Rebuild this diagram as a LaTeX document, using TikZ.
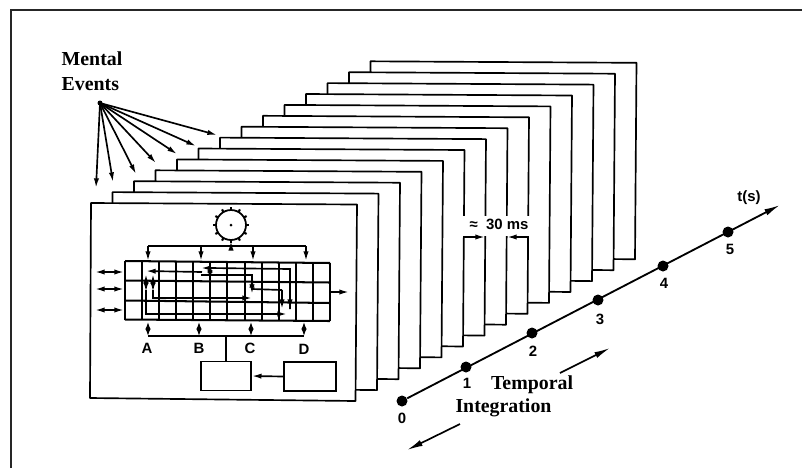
\documentclass[tikz,border=0pt]{standalone}
\usepackage{fontspec}
\setmainfont{Liberation Serif}
\setsansfont{Liberation Sans}
\usepackage{tikz}
\usetikzlibrary{arrows.meta,positioning,calc}

\tikzset{
  frameline/.style={draw=black,fill=white,line width=0.95pt,line join=round},
  wire/.style={line width=0.95pt},
  gridline/.style={line width=1.15pt},
  boxnode/.style={draw=black,line width=0.95pt,minimum height=0.58cm,inner sep=0pt},
  dotnode/.style={circle,fill=black,minimum size=0.22cm,inner sep=0pt},
  tlabel/.style={font=\sffamily\bfseries\fontsize{8.5}{10}\selectfont,inner sep=0pt},
  capt/.style={font=\bfseries\fontsize{11.3}{14.2}\selectfont,inner sep=0pt,align=left},
}

\begin{document}
\begin{tikzpicture}[x=0.02cm,y=-0.02cm,>={Latex[length=5.5pt,width=3pt]}]
  \useasboundingbox (0,0) rectangle (802,468);
  % outer rule
  \draw[line width=1.2pt,draw=black!85] (11,468) -- (11,10) -- (802,10);

  % frames, back to front
  \foreach \i in {13,12,...,0} {
    \pgfmathsetmacro{\fx}{91+21.5*\i}
    \pgfmathsetmacro{\fy}{203-10.9*\i}
    \draw[frameline] (\fx,\fy) -- ({\fx+266},{\fy+1.5}) -- ({\fx+264.5},{\fy+198}) -- ({\fx-1},{\fy+195}) -- cycle;
  }

  % gap for the duration label
  \fill[white] (456,216) rectangle (536,235.5);
  \node[tlabel] (dur) at (499,224) {≈\ \ 30 ms};
  \draw[wire,->] (464,237) -- (485,237);
  \draw[wire,->] (528,237) -- (507,237);

  % grid
  \foreach \i in {0,...,12}
    \draw[gridline] ({125+17.08*\i},{261+\i*0.15}) -- ({125+17.08*\i},{319.5+\i*0.15});
  \draw[gridline] (125,261) -- (330,263);
  \draw[gridline] (125,280.5) -- (330,282.5);
  \draw[gridline] (125,300.5) -- (330,303);
  \draw[gridline] (125,319.5) -- (330,321);

  % clock
  \node[circle,draw=black,line width=1pt,minimum size=0.6cm,inner sep=0pt] (clock) at (231,225) {};
  \fill (clock.center) circle (1.5);
  \foreach \a in {0,30,...,330}
    \draw[line width=1.2pt] ([shift={(\a:15)}]clock.center) -- ([shift={(\a:18)}]clock.center);
  \coordinate (bust) at (231,246);
  \draw[wire,->] (bust) -- (clock.south);
  \draw[wire] (148,246) -- (306,246);
  \foreach \x in {148,201,253,306}
    \draw[wire,->] (\x,246) -- (\x,261);

  % bottom bus
  \coordinate (busb) at (226,336);
  \draw[wire] (148,336) -- (304,336);
  \foreach \x in {148,199,251,304}
    \draw[wire,<->,>={Latex[length=4pt,width=3pt]}] (\x,322) -- (\x,336);
  \node[tlabel] (la) at (147,348) {A};
  \node[tlabel] (lb) at (199,348) {B};
  \node[tlabel] (lc) at (250,348) {C};
  \node[tlabel] (ld) at (304,349) {D};

  % boxes
  \node[boxnode,minimum width=1.0cm] (boxa) at (226,376) {};
  \node[boxnode,minimum width=1.04cm] (boxb) at (310,376.5) {};
  \draw[wire] (busb) -- (boxa);
  \draw[wire,->] (boxb.west) -- (boxa.east);

  % side arrows
  \foreach \y in {272,289,310}
    \draw[wire,<->] (95,\y) -- (124,\y);
  \draw[wire,->] (330,292) -- (349,292);

  % wiring inside the grid
  \draw[wire,->] (202,272) -- (146,271);
  \draw[wire,<->] (210,263) -- (210,280);
  \draw[wire,<-] (201,268) -- (210,268) -- (290,269) -- (290,309);
  \draw[wire,->] (290,295) -- (290,309);
  \draw[wire] (201,275) -- (252,275) -- (252,289) -- (282,290);
  \draw[wire,<->] (252,278) -- (252,294);
  \draw[wire,->] (282,290) -- (282,309);
  \draw[wire,<->] (153,274) -- (153,292);
  \draw[wire,<->] (146,274) -- (146,292);
  \draw[wire,->] (153,290) -- (153,298) -- (252,298);
  \draw[wire,->] (146,290) -- (146,314) -- (287,314);

  % mental events
  \node[capt] (events) at (92,71) {Mental\\Events};
  \node[circle,fill=black,minimum size=0.1cm,inner sep=0pt] (src) at (100,103) {};
  \foreach \tx/\ty in {96/188,113/182,136/174,156/163,177/154,196/146,217/135}
    \draw[wire,->] (src.center) -- (\tx,\ty);

  % time axis
  \node[dotnode] (t0) at (402,401) {};
  \node[dotnode] (t1) at (466,367) {};
  \node[dotnode] (t2) at (532,333) {};
  \node[dotnode] (t3) at (598,300) {};
  \node[dotnode] (t4) at (663,266) {};
  \node[dotnode] (t5) at (728,232) {};
  \coordinate (tend) at (780,205);
  \draw[line width=1.05pt,->,>={Latex[length=9pt,width=3.8pt]}] (t0) -- (tend);
  \foreach \n/\lx/\ly in {0/402/418,1/467/383,2/533/351,3/600/319,4/664/283,5/730/249}
    \node[tlabel] (l\n) at (\lx,\ly) {\n};
  \node[tlabel] (ts) at (749,198) {t(s)};

  % temporal integration
  \node[capt] (temp) at (532,385) {Temporal};
  \node[capt] (integ) at (503.5,408) {Integration};
  \coordinate (ua) at (560,373);
  \coordinate (ub) at (610,348);
  \coordinate (da) at (460,424);
  \coordinate (db) at (407,450);
  \draw[wire,->,>={Latex[length=9pt,width=3.6pt]}] (ua) -- (ub);
  \draw[wire,->,>={Latex[length=9pt,width=3.6pt]}] (da) -- (db);
\end{tikzpicture}
\end{document}
